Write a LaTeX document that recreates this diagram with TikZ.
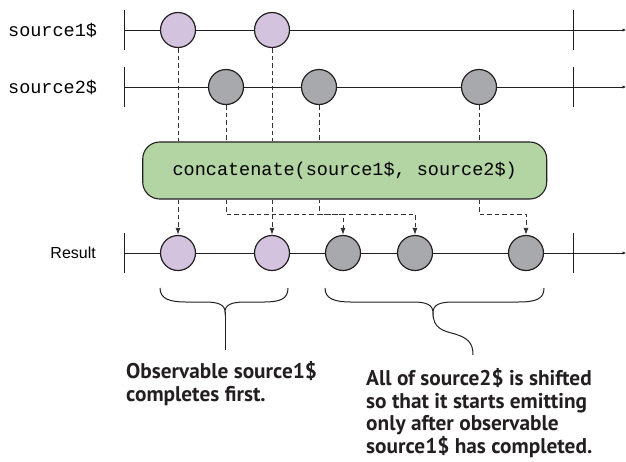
\documentclass[tikz,border=0pt]{standalone}
\usepackage{fontspec}
\setmainfont{Liberation Sans}
\newfontfamily\monofont{Liberation Mono}
\newfontfamily\notefont{PT Sans}
\usetikzlibrary{arrows.meta}
\definecolor{evA}{HTML}{D4C3DE}
\definecolor{evB}{HTML}{A7A9AC}
\definecolor{opfill}{HTML}{B3D4A3}
\definecolor{ink}{HTML}{231F20}
\definecolor{dashink}{HTML}{333333}
\definecolor{notecol}{HTML}{231F20}
\begin{document}
\begin{tikzpicture}[x=1pt,y=-1pt,
  timeline/.style={draw=ink, line width=1pt, -{Latex[length=3.5pt,width=3.5pt]}},
  tickline/.style={draw=ink, line width=1pt},
  evpurple/.style={circle, draw=ink, line width=1.2pt, fill=evA, minimum size=35pt, inner sep=0pt},
  evgray/.style={circle, draw=ink, line width=1.2pt, fill=evB, minimum size=35pt, inner sep=0pt},
  dashline/.style={draw=dashink, line width=1pt, dash pattern=on 4.5pt off 3pt},
  dasharrow/.style={dashline, -{Latex[length=7pt,width=5pt]}},
  opbox/.style={draw=ink, line width=1.1pt, fill=opfill, rounded corners=17pt, minimum width=404pt, minimum height=57pt, inner sep=0pt, font=\monofont\fontsize{18.5}{20}\selectfont},
  streamlabel/.style={anchor=west, inner sep=0pt, font=\monofont\fontsize{18.5}{20}\selectfont},
  resultlabel/.style={anchor=east, inner sep=0pt, font=\fontsize{16}{18}\selectfont},
  note/.style={anchor=north west, inner sep=0pt, align=left, text=notecol, font=\notefont\bfseries\fontsize{21.3}{22.8}\selectfont},
  bracepath/.style={draw=ink, line width=1pt}
]
\useasboundingbox (0,0) rectangle (626,461);

% timelines
\coordinate (s1a) at (124,30);  \coordinate (s1b) at (626,30);
\coordinate (s2a) at (124,87);  \coordinate (s2b) at (626,87);
\coordinate (rsa) at (124,253); \coordinate (rsb) at (626,253);
\draw[timeline] (s1a) -- (s1b);
\draw[timeline] (s2a) -- (s2b);
\draw[timeline] (rsa) -- (rsb);
\foreach \y in {30,87,253} {
  \draw[tickline] (124,\y-20) -- (124,\y+20);
  \draw[tickline] (573,\y-20) -- (573,\y+20);
}

% labels
\node[streamlabel] (l1) at (8,30) {source1\$};
\node[streamlabel] (l2) at (8,87) {source2\$};
\node[resultlabel] (l3) at (96,253) {Result};

% operator box
\node[opbox] (op) at (344.7,170.5) {concatenate(source1\$, source2\$)};

% event coordinates (for dashed paths)
\coordinate (a1) at (178,30);
\coordinate (a2) at (272,30);
\coordinate (b1) at (226,87);
\coordinate (b2) at (319,87);
\coordinate (b3) at (479,87);
\coordinate (elb) at (0,214);

% result event nodes
\node[evpurple] (r1) at (178,253) {};
\node[evpurple] (r2) at (272,253) {};
\node[evgray] (r3) at (343,253) {};
\node[evgray] (r4) at (415,253) {};
\node[evgray] (r5) at (526,253) {};

% dashed connectors
\draw[dashline] ([yshift=-18pt]a1) -- (op.north -| a1);
\draw[dasharrow] (op.south -| a1) -- (r1.north);
\draw[dashline] ([yshift=-18pt]a2) -- (op.north -| a2);
\draw[dasharrow] (op.south -| a2) -- (r2.north);
\draw[dashline] ([yshift=-18pt]b1) -- (op.north -| b1);
\draw[dasharrow] (op.south -| b1) |- (elb -| r3) -- (r3.north);
\draw[dashline] ([yshift=-18pt]b2) -- (op.north -| b2);
\draw[dasharrow, dash phase=1pt] (op.south -| b2) |- (elb -| r4) -- (r4.north);
\draw[dashline] ([yshift=-18pt]b3) -- (op.north -| b3);
\draw[dasharrow] (op.south -| b3) |- (elb -| r5) -- (r5.north);

% source event nodes (on top of dashed lines)
\node[evpurple] (e1) at (a1) {};
\node[evpurple] (e2) at (a2) {};
\node[evgray] (f1) at (b1) {};
\node[evgray] (f2) at (b2) {};
\node[evgray] (f3) at (b3) {};

% braces
\draw[bracepath] (160,288) .. controls (160,299) and (170,302) .. (186,302) -- (205,302)
  .. controls (219,302) and (225,305) .. (225,312)
  .. controls (225,305) and (231,302) .. (245,302) -- (264,302)
  .. controls (280,302) and (288,299) .. (288,288);
\coordinate (bl) at (225,312);
\coordinate (blend) at (225,350);
\draw[bracepath] (bl) -- (blend);

\draw[bracepath] (325,288) .. controls (325,299) and (335,302) .. (351,302) -- (413,302)
  .. controls (427,302) and (433,305) .. (433,313)
  .. controls (433,305) and (439,302) .. (453,302) -- (518,302)
  .. controls (536,302) and (544,299) .. (544,288);
\coordinate (br) at (433,313);
\coordinate (brend) at (473,355);
\draw[bracepath] (br) .. controls (433,329) and (444,331) .. (455,334)
  .. controls (468,338) and (473,343) .. (brend);

% notes
\node[note] (n1) at (126,361) {Observable source1\$\\completes first.};
\node[note] (n2) at (366,368) {All of source2\$ is shifted\\so that it starts emitting\\only after observable\\source1\$ has completed.};
\end{tikzpicture}
\end{document}
